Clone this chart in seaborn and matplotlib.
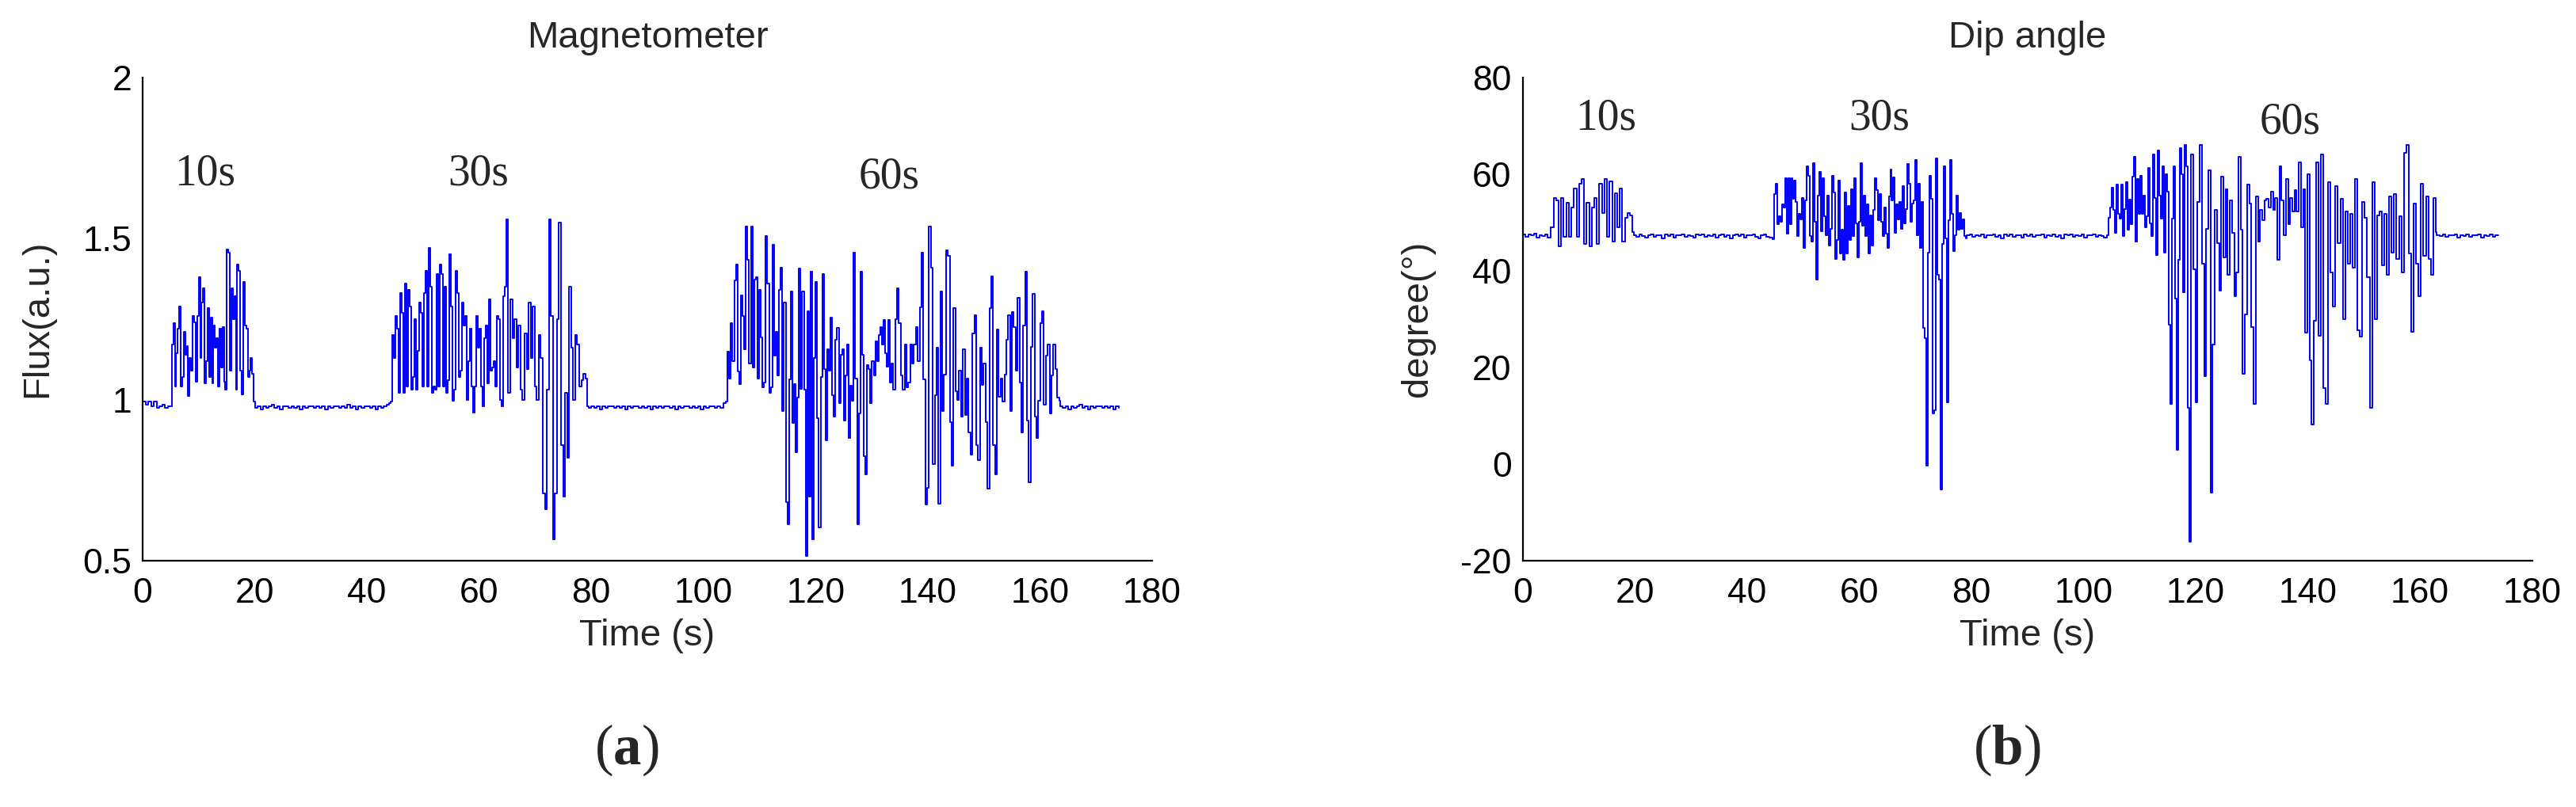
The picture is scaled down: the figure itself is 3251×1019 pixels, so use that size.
import numpy as np
import pandas as pd
import matplotlib
matplotlib.use("Agg")
import matplotlib.pyplot as plt
import seaborn as sns

# ------------------------------------------------------------------ data
# (a) Magnetometer flux (a.u.) - piecewise segments: quiet baselines and the 10 s / 30 s / 60 s bursts
flux_ranges = [(0.0, 5.0), (5.2, 19.8), (20.0, 44.0), (44.2, 64.9), (65.2, 79.3),
               (79.5, 104.0), (104.3, 133.3), (133.5, 163.4), (163.6, 174.0)]
flux_base0 = [0.995, 0.985, 0.995, 0.98, 0.995, 0.975, 0.98, 0.985, 0.975, 0.98, 0.98]
flux_burst10 = [1.17, 1.237, 1.04, 1.145, 1.22, 1.29, 1.04, 1.07, 1.21, 1.14, 1.165, 1.01, 1.13, 1.09,
                1.26, 1.24, 1.055, 1.26, 1.38, 1.13, 1.30, 1.345, 1.05, 1.12, 1.285, 1.07, 1.255, 1.05,
                1.23, 1.16, 1.19, 1.04, 1.22, 1.10, 1.225, 1.055, 1.03, 1.465, 1.455, 1.09, 1.345, 1.25,
                1.32, 1.03, 1.42, 1.40, 1.09, 1.015, 1.365, 1.23, 1.22, 1.07, 1.09, 1.13, 1.08, 0.995]
flux_base1 = [0.975, 0.98, 0.97, 0.98, 0.975, 0.98, 0.985, 0.975, 0.98, 0.97, 0.98, 0.978, 0.975,
              0.98, 0.975, 0.98, 0.97, 0.98, 0.975, 0.98, 0.978, 0.975, 0.98, 0.975, 0.98, 0.97, 0.98,
              0.975, 0.978, 0.98, 0.975, 0.98, 0.975, 0.985, 0.975, 0.98, 0.97, 0.98, 0.975, 0.98,
              0.978, 0.975, 0.98, 0.97, 0.98, 0.975, 0.98, 0.985, 0.99]
flux_burst30a = [0.995, 1.20, 1.13, 1.26, 1.22, 1.02, 1.33, 1.27, 1.02, 1.36, 1.04, 1.34, 1.29, 1.03,
                 1.07, 1.25, 1.03, 1.15, 1.30, 1.27, 1.04, 1.33, 1.40, 1.04, 1.47, 1.35, 1.02, 1.04,
                 1.03, 1.39, 1.04, 1.42, 1.39, 1.04, 1.35, 1.02, 1.06, 1.45, 1.29, 0.997, 1.03, 1.40,
                 1.33, 1.07, 1.09, 1.30, 1.23, 1.26, 1.00, 1.12, 1.22, 1.04, 0.96, 1.04, 1.26, 1.16,
                 1.22, 1.04, 0.98, 1.19, 1.23, 1.05, 1.31, 1.09, 1.10, 1.12, 1.04, 1.26, 1.25, 1.00,
                 0.98, 1.32, 1.35, 1.56]
flux_burst30b = [1.02, 1.31, 1.19, 1.25, 1.10, 1.23, 1.03, 1.00, 1.205, 1.095, 1.30, 1.13, 1.29, 1.04,
                 1.00, 1.20, 1.13, 0.71, 0.66, 1.03, 1.56, 1.26, 0.567, 0.71, 1.25, 1.55, 0.86, 0.70,
                 1.02, 0.82, 1.35, 1.16, 1.00, 1.20, 1.17, 1.04, 1.06, 1.08, 1.065, 0.98]
flux_base2 = [0.975, 0.98, 0.975, 0.98, 0.97, 0.98, 0.975, 0.98, 0.978, 0.975, 0.98, 0.975, 0.98,
              0.97, 0.98, 0.975, 0.98, 0.978, 0.975, 0.98, 0.975, 0.98, 0.97, 0.98, 0.975, 0.98,
              0.975, 0.978, 0.98, 0.975, 0.98, 0.97, 0.98, 0.975, 0.98, 0.978, 0.975, 0.98, 0.975,
              0.98, 0.97, 0.98, 0.975, 0.98, 0.978, 0.975, 0.98, 0.975, 0.99, 0.995]
flux_burst60a = [1.148, 1.064, 1.238, 1.12, 1.37, 1.42, 1.087, 1.047, 1.324, 1.26, 1.156, 1.537, 1.435,
                 1.111, 1.537, 1.10, 1.373, 1.38, 1.066, 1.34, 1.193, 1.038, 1.054, 1.507, 1.36, 1.021,
                 1.038, 1.48, 1.136, 1.21, 1.074, 1.34, 1.41, 0.964, 1.30, 0.682, 0.612, 1.062, 1.336,
                 0.927, 1.048, 0.837, 1.005, 1.406, 1.034, 1.336, 1.03, 0.514, 1.275, 0.698, 1.397,
                 0.567, 1.128, 1.365, 0.943, 0.604, 1.07, 1.39, 1.095, 0.874, 1.156, 1.09, 1.255,
                 1.013, 0.947, 1.185, 1.222, 0.988, 1.14, 1.156, 0.935, 1.074, 1.172, 0.882, 1.042,
                 0.997, 1.455, 1.066, 0.612, 0.956, 1.397, 1.14, 0.825, 0.768, 1.107, 1.095, 0.988,
                 1.12, 1.074, 1.18, 1.12, 1.201, 1.226, 1.172, 1.246, 1.144, 1.103, 1.246, 1.054]
flux_burst60b = [1.111, 1.03, 1.25, 1.345, 1.238, 1.074, 1.03, 1.172, 1.038, 1.054, 1.172, 1.111, 1.172,
                 1.226, 1.12, 1.287, 1.455, 1.062, 0.674, 0.727, 1.537, 1.41, 0.80, 1.013, 1.16, 0.678,
                 1.336, 0.964, 1.078, 1.463, 1.447, 0.931, 0.796, 1.283, 1.025, 1.0, 1.09, 0.947,
                 1.156, 0.952, 1.066, 0.898, 0.829, 1.205, 1.263, 0.858, 0.813, 1.16, 1.046, 1.111,
                 0.931, 0.723, 1.283, 1.381, 0.858, 0.768, 1.218, 1.009, 1.066, 0.993, 1.078, 1.185,
                 1.263, 0.964, 1.271, 1.226, 1.09, 1.316, 1.054, 0.898, 1.23, 1.397, 0.935, 0.743,
                 1.164, 1.328, 0.947, 0.882, 0.997, 1.238, 1.275, 0.984, 1.136, 1.172, 0.956, 1.074,
                 1.172, 1.095, 1.005, 0.997]
flux_base3 = [0.98, 0.975, 0.98, 0.97, 0.98, 0.975, 0.98, 0.985, 0.975, 0.98, 0.97, 0.98, 0.975,
              0.98, 0.978, 0.975, 0.98, 0.975, 0.98, 0.97, 0.98, 0.975]

# (b) Dip angle (degree)
dip_ranges = [(0.0, 5.0), (5.05, 19.6), (19.8, 44.5), (44.8, 79.0), (79.2, 104.2),
              (104.4, 118.9), (119.2, 140.7), (141.0, 162.8), (163.0, 174.0)]
dip_base0 = [47.5, 47.0, 47.5, 47.3, 47.6, 46.8, 47.4, 47.2, 47.5, 46.9, 47.4]
dip_burst10 = [49, 55, 54.5, 45, 55, 47, 54, 47, 53, 57, 47, 58, 59, 45.5, 54, 45, 53, 55, 45.5, 58,
               52, 59, 47, 58.5, 46, 56, 49, 57, 46, 51, 52, 51.5, 48]
dip_base1 = [47.4, 47.0, 47.5, 47.2, 46.8, 47.4, 47.5, 47.0, 47.4, 47.3, 46.7, 47.5, 47.2, 47.5,
             46.9, 47.4, 47.3, 47.5, 47.0, 47.4, 47.2, 46.8, 47.5, 47.3, 47.5, 47.0, 47.4, 47.2,
             47.5, 46.9, 47.3, 47.5, 47.0, 47.4, 46.6, 47.3, 47.5, 47.2, 47.5, 46.8, 47.4, 47.3,
             47.5, 47.0, 46.7, 47.4, 47.5, 47.0, 46.8, 46.5]
dip_burst30 = [55.8, 58.0, 49.6, 51.2, 50.1, 53.7, 53.1, 59.1, 47.7, 59.1, 49.6, 59.1, 54.8, 58.6,
               54.2, 47.1, 51.8, 50.6, 55.0, 44.7, 54.5, 61.6, 59.7, 47.1, 46.0, 62.2, 50.1, 38.1,
               55.6, 60.5, 48.2, 59.1, 51.2, 47.4, 55.6, 45.2, 48.7, 59.7, 56.1, 42.5, 46.3, 58.6,
               43.6, 48.5, 42.2, 56.1, 43.6, 53.4, 46.3, 56.8, 47.1, 59.1, 49.8, 42.7, 50.1, 62.2,
               49.3, 55.6, 47.1, 53.7, 43.6, 51.5, 45.2, 52.6, 59.1, 56.7, 50.4, 55.8, 50.1, 47.1,
               53.1, 47.7, 44.7, 55.3, 61.0, 54.5, 59.3, 47.9, 53.7, 50.6, 54.2, 48.7, 57.5, 49.8,
               52.8, 62.1, 57.9, 50.1, 53.9, 54.5, 62.9, 47.4, 58.0, 44.7, 54.2, 28.2, 26.1, -0.4,
               43.8, 59.7, 54.8, 10.5, 11.1, 63.2, 39.2, 38.1, -5.3, 45.5, 61.6, 46.6, 12.7, 50.4,
               62.9, 51.8, 44.1, 47.4, 55.6, 48.5, 52.0, 48.7, 50.6, 47.1, 46.6]
dip_base2 = [47.3, 47.5, 47.0, 47.4, 47.2, 47.5, 46.9, 47.4, 47.3, 47.5, 47.0, 47.4, 46.7, 47.5,
             47.2, 47.5, 47.0, 47.4, 47.3, 46.8, 47.5, 47.2, 47.5, 47.0, 47.4, 47.3, 47.5, 46.9,
             47.4, 47.2, 47.5, 47.0, 47.4, 46.6, 47.5, 47.3, 47.5, 47.0, 47.4, 47.2, 47.5, 46.9,
             47.4, 47.3, 47.5, 47.0, 47.4, 47.2, 46.8, 47.4]
dip_burst60a = [50.9, 53.1, 57.2, 52.6, 47.9, 57.8, 51.8, 50.7, 57.8, 47.1, 52.8, 58.3, 48.5, 54.7,
                49.6, 59.4, 63.5, 46.0, 58.9, 51.8, 59.7, 51.8, 55.6, 49.0, 51.2, 61.3, 49.8, 47.1,
                64.0, 55.0, 43.3, 64.9, 55.6, 50.7, 61.6, 43.8, 60.0, 56.4, 28.8, 12.4, 50.7, 61.6,
                34.3, 2.9, 42.2, 65.4, 59.9, 35.6, 66.0, 61.6, 11.6, -16.0]
dip_burst60b = [64.0, 40.3, 12.7, 54.2, 66.0, 41.4, 18.2, 48.7, 60.8, -5.9, 24.7, 52.6, 45.7, 35.9,
                59.4, 42.7, 56.9, 39.2, 54.5, 47.9, 34.8, 39.7, 63.5, 48.5, 18.7, 31.0, 57.8, 53.9,
                28.3, 12.4, 55.3, 46.0, 52.6, 50.4, 54.5, 54.8, 53.1, 56.4, 52.6, 55.0, 42.2, 61.6,
                54.5, 47.4, 58.9, 49.6, 55.0, 52.3, 56.7, 52.3, 62.4, 49.0, 56.9, 27.2, 60.0, 21.4,
                8.1]
dip_burst60c = [29.6, 62.4, 26.6, 64.0, 15.7, 12.4, 58.3, 39.7, 32.6, 57.5, 45.7, 54.8, 29.9, 52.3,
                41.4, 51.8, 40.6, 58.9, 27.7, 26.3, 54.2, 50.9, 38.6, 11.6, 58.3, 29.9, 51.5, 52.3,
                41.1, 51.8, 39.2, 55.3, 43.8, 55.8, 42.5, 51.2, 39.7, 64.3, 66.0, 43.6, 27.4, 53.9,
                41.4, 34.8, 58.0, 43.0, 55.3, 42.5, 39.2, 55.0, 48.0]
dip_base3 = [47.4, 47.2, 47.5, 47.0, 47.4, 47.3, 47.5, 46.9, 47.4, 47.2, 47.5, 47.0, 47.4, 47.3,
             47.5, 46.8, 47.4, 47.2, 47.5, 47.0, 47.4, 47.3]

flux_parts = [flux_base0, flux_burst10, flux_base1, flux_burst30a, flux_burst30b,
              flux_base2, flux_burst60a, flux_burst60b, flux_base3]
dip_parts = [dip_base0, dip_burst10, dip_base1, dip_burst30, dip_base2,
             dip_burst60a, dip_burst60b, dip_burst60c, dip_base3]

flux_ticks = [0.5, 1, 1.5, 2]
flux_ticklabels = ["0.5", "1", "1.5", "2"]
dip_ticks = [-20, 0, 20, 40, 60, 80]
dip_ticklabels = ["-20", "0", "20", "40", "60", "80"]
time_ticks = [0, 20, 40, 60, 80, 100, 120, 140, 160, 180]

flux_annot = [("10s", 5.6, 1.666), ("30s", 54.5, 1.666), ("60s", 127.7, 1.655)]
dip_annot = [("10s", 9.4, 69.2), ("30s", 58.2, 69.2), ("60s", 131.4, 68.4)]


def build(parts, ranges):
    ts, vs = [], []
    for vals, (t0, t1) in zip(parts, ranges):
        ts.append(np.linspace(t0, t1, len(vals)))
        vs.append(np.asarray(vals, dtype=float))
    return pd.DataFrame({"t": np.concatenate(ts), "v": np.concatenate(vs)})


flux_df = build(flux_parts, flux_ranges)
dip_df = build(dip_parts, dip_ranges)

# ------------------------------------------------------------------ style
sns.set_style("white")
plt.rcParams["font.family"] = ["Liberation Sans", "DejaVu Sans"]
plt.rcParams["mathtext.fontset"] = "custom"
plt.rcParams["mathtext.rm"] = "Liberation Serif"
plt.rcParams["mathtext.bf"] = "Liberation Serif:bold"

W, H = 3251, 1019
fig = plt.figure(figsize=(W / 100, H / 100), dpi=100)
fig.patch.set_facecolor("white")

ax1 = fig.add_axes([180 / W, 1 - 708 / H, 1274 / W, 610.4 / H])
ax2 = fig.add_axes([1921.6 / W, 1 - 708 / H, 1274 / W, 610.4 / H])

LABEL_FS = 34
TICK_FS = 32
SERIF = ["Liberation Serif", "DejaVu Serif"]


def style(ax, df, ylim, yticks, yticklabels, ylabel, title, annots):
    sns.lineplot(data=df, x="t", y="v", ax=ax, color="#0000ff", linewidth=1.4,
                 estimator=None, sort=False, drawstyle="steps-post")
    ax.set_xlim(0, 180)
    ax.set_ylim(*ylim)
    ax.set_xticks(time_ticks)
    ax.set_xticklabels([str(t) for t in time_ticks])
    ax.set_yticks(yticks)
    ax.set_yticklabels(yticklabels)
    for s in ["top", "right"]:
        ax.spines[s].set_visible(False)
    for s in ["left", "bottom"]:
        ax.spines[s].set_linewidth(1.6)
        ax.spines[s].set_color("black")
    ax.tick_params(axis="both", direction="in", length=8, width=1.0, colors="black",
                   labelsize=TICK_FS)
    ax.tick_params(axis="x", pad=15)
    ax.tick_params(axis="y", pad=10)
    ax.set_xlabel("Time (s)", fontsize=LABEL_FS, va="top")
    ax.xaxis.set_label_coords(0.5, -0.120)
    ax.set_ylabel(ylabel, fontsize=LABEL_FS)
    ax.yaxis.set_label_coords(-0.087, 0.5)
    ax.set_title(title, fontsize=LABEL_FS, y=1.062, pad=0, va="baseline")
    for txt, x, y in annots:
        ax.text(x, y, txt, fontsize=40, family=SERIF, ha="left", va="baseline")


style(ax1, flux_df, (0.5, 2), flux_ticks, flux_ticklabels, "Flux(a.u.)", "Magnetometer", flux_annot)
style(ax2, dip_df, (-20, 80), dip_ticks, dip_ticklabels, "degree(\u00b0)", "Dip angle", dip_annot)

fig.text(791 / W, 1 - 947 / H, r"$\mathrm{(}\mathbf{a}\mathrm{)}$", fontsize=51,
         ha="center", va="center")
fig.text(2533 / W, 1 - 947 / H, r"$\mathrm{(}\mathbf{b}\mathrm{)}$", fontsize=51,
         ha="center", va="center")

fig.savefig("out.png", dpi=100, facecolor="white")
